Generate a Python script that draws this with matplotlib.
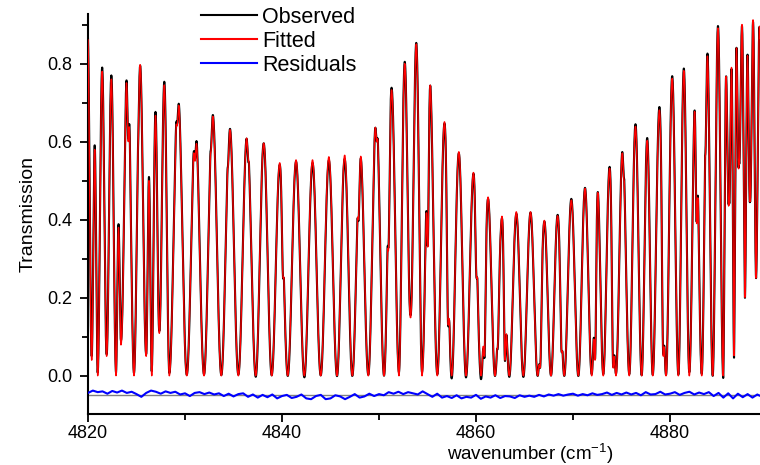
import numpy as np
import matplotlib
matplotlib.use("Agg")
import matplotlib.pyplot as plt
from matplotlib.ticker import MultipleLocator, FormatStrFormatter

plt.rcParams["font.family"] = ["Liberation Sans", "DejaVu Sans"]
plt.rcParams["mathtext.fontset"] = "custom"
plt.rcParams["mathtext.rm"] = "Liberation Sans"
plt.rcParams["mathtext.default"] = "regular"

# ---------- data ----------
# strong line centres (cm-1) and the transmission at each centre
TROUGH_X = [4819.56, 4820.38, 4821.00, 4821.92, 4822.89, 4823.40, 4824.74, 4826.00,
            4826.57, 4827.35, 4828.38, 4830.18, 4831.96, 4833.74, 4835.50, 4837.29,
            4838.94, 4840.59, 4842.30, 4843.99, 4845.67, 4847.25, 4848.90, 4850.52,
            4852.06, 4853.25, 4854.43, 4856.01, 4857.49, 4858.97, 4860.52, 4861.96,
            4863.43, 4864.88, 4866.36, 4867.73, 4869.10, 4870.55, 4871.93, 4873.12,
            4874.43, 4875.80, 4877.08, 4878.22, 4879.59, 4880.86, 4881.99, 4883.27,
            4884.40, 4885.49, 4886.08, 4886.60, 4887.11, 4887.73, 4888.25, 4888.87,
            4889.59]
TROUGH_Y = ([0.0, 0.04, 0.0, 0.05, 0.0, 0.08, 0.0, 0.05, 0.0, 0.11, 0.0]
            + [0.0] * 14 + [0.15] + [0.0] * 24
            + [0.45, 0.05, 0.55, 0.20, 0.45, 0.25, 0.30])

# transmission maximum between neighbouring strong lines
PEAK_Y = [0.87, 0.58, 0.78, 0.76, 0.38, 0.83, 0.80, 0.50, 0.667, 0.745,
          0.72, 0.64, 0.67, 0.635, 0.62, 0.596,
          0.546, 0.553, 0.553, 0.561, 0.565, 0.574, 0.674, 0.734, 0.80, 0.85,
          0.77, 0.651, 0.574, 0.522, 0.458, 0.412, 0.42, 0.42, 0.398, 0.41,
          0.45, 0.48, 0.48, 0.532, 0.583, 0.639, 0.603, 0.681, 0.762, 0.782,
          0.749, 0.835, 0.891, 0.767, 0.79, 0.84, 0.90, 0.82, 0.912, 0.895]

# weaker lines: centre (cm-1) and the lowest transmission they reach
WEAK_X = [4824.15, 4825.08, 4829.18, 4831.03, 4832.62, 4834.38, 4836.56, 4840.13,
          4847.87, 4849.77, 4850.96, 4855.02, 4857.14, 4860.07, 4860.86, 4862.20,
          4862.99, 4866.60, 4868.84, 4872.27, 4874.15, 4875.29, 4879.31, 4882.75,
          4883.61]
WEAK_Y = [0.60, 0.58, 0.64, 0.55, 0.57, 0.53, 0.55, 0.25,
          0.40, 0.60, 0.32, 0.33, 0.13, 0.25, 0.05, 0.07,
          0.04, 0.02, 0.06, 0.04, 0.02, 0.50, 0.05, 0.39,
          0.56]

# residuals (observed - fitted), every 0.5 cm-1 from 4820
RESID = [0.006, 0.012, 0.008, 0.010, 0.004, 0.011, 0.007, 0.012, 0.006, 0.009,
         0.003, -0.004, 0.006, 0.012, 0.009, 0.004, 0.010, 0.006, 0.009, 0.002,
         0.005, -0.002, 0.006, 0.008, 0.003, 0.007, 0.002, 0.005, -0.002, 0.004,
         -0.003, 0.003, 0.005, -0.004, 0.002, -0.006, 0.001, -0.005, 0.002, -0.008,
         -0.002, 0.001, -0.007, -0.004, 0.002, -0.008, -0.010, -0.002, 0.001, -0.010,
         -0.008, 0.000, -0.003, -0.010, -0.004, 0.003, -0.006, -0.003, 0.004, -0.002,
         0.003, 0.000, 0.008, 0.004, 0.009, 0.003, 0.008, 0.005, 0.002, 0.010,
         0.003, -0.004, 0.004, -0.006, -0.002, -0.007, 0.000, -0.008, -0.004, -0.006,
         0.001, -0.009, -0.003, -0.006, 0.000, -0.007, -0.002, -0.003, -0.007, 0.000,
         -0.004, -0.001, -0.004, 0.001, -0.003, 0.002, -0.001, 0.003, -0.001, 0.002,
         0.004, -0.001, 0.003, 0.000, 0.005, 0.001, 0.003, 0.007, 0.001, 0.006,
         0.002, 0.007, 0.002, 0.006, 0.000, 0.008, 0.002, 0.003, 0.009, 0.002,
         0.004, 0.008, 0.001, 0.006, 0.009, 0.002, 0.007, 0.003, 0.008, -0.002,
         0.006, -0.006, 0.005, -0.008, 0.004, -0.005, 0.003, -0.006, 0.002, -0.004]
RESID_OFFSET = -0.05


def fitted_curve(x):
    tx = np.asarray(TROUGH_X)
    ty = np.asarray(TROUGH_Y)
    pk = np.asarray(PEAK_Y)
    i = np.clip(np.searchsorted(tx, x, side="right") - 1, 0, len(tx) - 2)
    u = (x - tx[i]) / (tx[i + 1] - tx[i])
    base = ty[i] + (ty[i + 1] - ty[i]) * u
    t = base + (pk[i] - base) * np.sin(np.pi * u) ** 2
    for c, m in zip(WEAK_X, WEAK_Y):
        g = np.exp(-0.5 * ((x - c) / 0.1) ** 2)
        t = np.minimum(t, t * (1 - g) + m * g)
    return t


def main():
    x = np.linspace(TROUGH_X[0], TROUGH_X[-1], 12000)
    fit = fitted_curve(x)
    rx = 4820 + 0.5 * np.arange(len(RESID))
    res = np.asarray(RESID)
    obs = fit + np.interp(x, rx, res)

    fig = plt.figure(figsize=(7.6, 4.65), dpi=100)
    ax = fig.add_axes([88 / 760, 1 - 414 / 465, 672 / 760, 400 / 465])

    ax.axhline(RESID_OFFSET, color="#808080", lw=1.0, zorder=1)
    ax.plot(x, obs, color="black", lw=1.5, label="Observed", zorder=2)
    ax.plot(x, fit, color="#ff0000", lw=1.0, label="Fitted", zorder=3)
    ax.plot(rx, res + RESID_OFFSET, color="#0000ff", lw=1.5, label="Residuals", zorder=4)

    ax.set_xlim(4820, 4820 + 672 / 9.7)
    ax.set_ylim(-0.098, 0.927)
    ax.xaxis.set_major_locator(MultipleLocator(20))
    ax.xaxis.set_minor_locator(MultipleLocator(10))
    ax.yaxis.set_major_locator(MultipleLocator(0.2))
    ax.yaxis.set_minor_locator(MultipleLocator(0.1))
    ax.yaxis.set_major_formatter(FormatStrFormatter("%.1f"))

    ax.tick_params(axis="both", which="major", direction="out", length=6, width=1.3,
                   labelsize=13, colors="black")
    ax.tick_params(axis="both", which="minor", direction="out", length=4, width=1.3)
    ax.tick_params(axis="x", which="major", pad=2)
    ax.tick_params(axis="y", which="major", pad=5)

    for s in ["top", "right"]:
        ax.spines[s].set_visible(False)
    for s in ["left", "bottom"]:
        ax.spines[s].set_linewidth(1.5)

    ax.set_ylabel("Transmission", fontsize=14)
    ax.yaxis.set_label_coords(-0.076, 0.5)
    ax.set_xlabel("wavenumber (cm$^{-1}$)", fontsize=13.5)
    ax.xaxis.label.set_va("baseline")
    ax.xaxis.set_label_coords(0.658, -0.115)

    leg = ax.legend(loc="upper left", bbox_to_anchor=(201 / 760, 1 - 7 / 465),
                    bbox_transform=fig.transFigure, frameon=False, fontsize=15.5,
                    borderpad=0, borderaxespad=0, handlelength=2.6,
                    handletextpad=0.25, labelspacing=0.14)
    for line in leg.get_lines():
        line.set_linewidth(1.5)

    fig.savefig("out.png", dpi=100)
    plt.close(fig)


if __name__ == "__main__":
    main()
